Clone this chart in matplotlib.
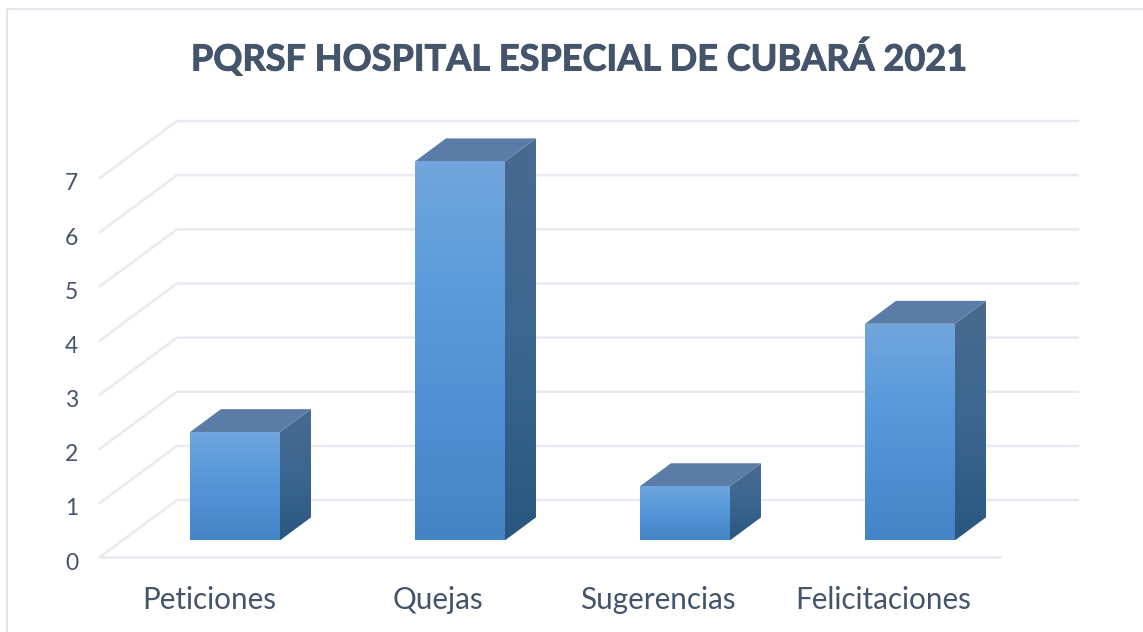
import numpy as np
import matplotlib
matplotlib.use('Agg')
import matplotlib.pyplot as plt
import matplotlib.patheffects as pe
from matplotlib.colors import LinearSegmentedColormap
from matplotlib.lines import Line2D
from matplotlib.patches import Polygon
from matplotlib.transforms import ScaledTranslation

categorias = ['Peticiones', 'Quejas', 'Sugerencias', 'Felicitaciones']
valores = [2, 7, 1, 4]
niveles = [0, 1, 2, 3, 4, 5, 6, 7]
titulo = 'PQRSF HOSPITAL ESPECIAL DE CUBARÁ 2021'

W, H = 1143, 632
COL_TEXTO = '#44546A'
COL_GRID = '#E7EAF0'
COL_BORDE = '#E1E4EC'

plt.rcParams['font.family'] = ['Lato', 'DejaVu Sans']

fig = plt.figure(figsize=(W / 100, H / 100), dpi=100)
# ejes: x -0.5..3.5 = 100..1000 px, y 0..7 = 557..178 px
ax = fig.add_axes([100 / W, 1 - 557 / H, 900 / W, 379 / H])
ax.set_xlim(-0.5, 3.5)
ax.set_ylim(0, 7)

# oblicua: z va de 0 (frente) a 1 (fondo)
DX = 0.342
DY = 1.052


def proy(x, y, z):
    return x + z * DX, y + z * DY


# lineas de la pared y el piso
x_der = 3.5 + 0.004
for n in niveles:
    xa, ya = proy(-0.5, n, 0)
    xb, yb = proy(-0.5, n, 1)
    ax.plot([xa, xb, x_der + DX], [ya, yb, yb], color=COL_GRID, lw=1.8,
            clip_on=False, zorder=1, solid_joinstyle='miter')
ax.plot([-0.5, 3.5], [0, 0], color=COL_GRID, lw=1.8, clip_on=False, zorder=1)

cm_frente = LinearSegmentedColormap.from_list('f', ['#72A6DD', '#5B9BDC', '#4E90D3', '#4284C4'])
cm_lado = LinearSegmentedColormap.from_list('l', ['#4A6A8F', '#3A6690', '#2A5780'])
Z0, Z1 = 0.292, 0.695
ANCHO = 0.4


def cara(puntos, cmap, zo):
    pts = np.array(puntos)
    poly = Polygon(pts, closed=True, transform=ax.transData, fc='none', ec='none', clip_on=False)
    ax.add_patch(poly)
    grad = np.linspace(0, 1, 256).reshape(-1, 1)
    im = ax.imshow(grad, cmap=cmap, aspect='auto', zorder=zo, origin='upper',
                   extent=[pts[:, 0].min(), pts[:, 0].max(), pts[:, 1].min(), pts[:, 1].max()])
    # la barra de 7 sobresale de los ejes
    im.set_clip_box(fig.bbox)
    im.set_clip_path(poly)


for i, v in enumerate(valores):
    x0 = i - ANCHO / 2
    x1 = i + ANCHO / 2
    zo = 3 + i * 0.1
    frente = [proy(x0, 0, Z0), proy(x1, 0, Z0), proy(x1, v, Z0), proy(x0, v, Z0)]
    lado = [proy(x1, 0, Z0), proy(x1, 0, Z1), proy(x1, v, Z1), proy(x1, v, Z0)]
    tapa = [proy(x0, v, Z0), proy(x1, v, Z0), proy(x1, v, Z1), proy(x0, v, Z1)]
    cara(lado, cm_lado, zo)
    cara(frente, cm_frente, zo + 0.01)
    ax.add_patch(Polygon(tapa, closed=True, fc='#5A7CA6', ec='none', zorder=zo, clip_on=False))

ax.set_xlim(-0.5, 3.5)
ax.set_ylim(0, 7)

ax.set_xticks(range(len(categorias)))
ax.set_xticklabels(categorias, fontsize=21.3, color=COL_TEXTO)
ax.set_yticks(niveles)
ax.set_yticklabels(niveles, fontsize=16.5, color=COL_TEXTO)
ax.tick_params(length=0, axis='x', pad=21)
ax.tick_params(length=0, axis='y', pad=15.5)
for s in ax.spines.values():
    s.set_visible(False)
ax.patch.set_visible(False)

# ajuste fino de las etiquetas, en px
corr_x = [-3, 0, -5, -4]
for lab, dx in zip(ax.get_xticklabels(), corr_x):
    lab.set_transform(lab.get_transform() + ScaledTranslation(dx / 100, 0, fig.dpi_scale_trans))
for lab in ax.get_yticklabels():
    lab.set_transform(lab.get_transform() + ScaledTranslation(0, -4 / 100, fig.dpi_scale_trans))

t = fig.text(579 / W, 1 - 57 / H, titulo, ha='center', va='center', fontsize=26,
             fontweight='bold', color=COL_TEXTO)
t.set_path_effects([pe.withStroke(linewidth=0.7, foreground=COL_TEXTO)])

# borde del grafico (sin lado derecho ni inferior)
fig.add_artist(Line2D([1, 6.5 / W, 6.5 / W], [1 - 9 / H, 1 - 9 / H, 0],
                      transform=fig.transFigure, color=COL_BORDE, lw=1.5))

fig.savefig('out.png', dpi=100)
